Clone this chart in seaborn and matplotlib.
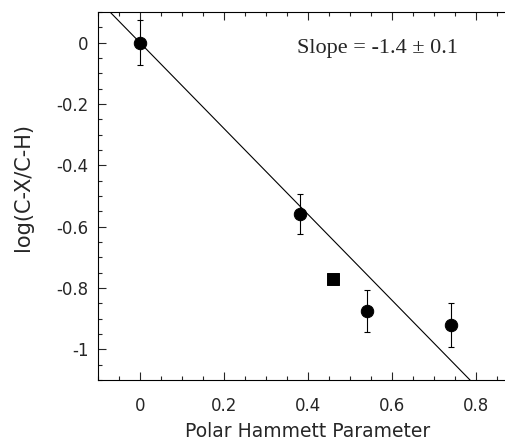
import matplotlib
matplotlib.use("Agg")
import matplotlib.pyplot as plt
import seaborn as sns
import numpy as np
import pandas as pd
from matplotlib.ticker import MultipleLocator

# data
sigma = [0.0, 0.38, 0.54, 0.74]
log_ratio = [0.0, -0.56, -0.875, -0.92]
err = [0.074, 0.065, 0.067, 0.072]
sq_sigma = [0.46]
sq_log_ratio = [-0.77]
slope = -1.4
intercept = 0.0
fit_x = [-0.1, 0.9]

sns.set_style("ticks")
plt.rcParams['font.family'] = ['DejaVu Sans']

fig = plt.figure(figsize=(5.06, 4.44), dpi=100)
ax = fig.add_axes([98 / 506, 1 - 380 / 444, 420 / 506, 368 / 444])

fit = pd.DataFrame({"x": fit_x, "y": [intercept + slope * v for v in fit_x]})
sns.lineplot(data=fit, x="x", y="y", color="black", lw=0.8, ax=ax)

ax.errorbar(sigma, log_ratio, yerr=err, fmt="none", ecolor="black",
            elinewidth=0.8, capsize=2, capthick=0.8)
sns.scatterplot(x=sigma, y=log_ratio, marker="o", s=80, color="black",
                edgecolor="black", ax=ax, zorder=3)
sns.scatterplot(x=sq_sigma, y=sq_log_ratio, marker="s", s=75, color="black",
                edgecolor="black", ax=ax, zorder=3)

ax.set_xlim(-0.1, 0.9)
ax.set_ylim(-1.1, 0.1)
ax.xaxis.set_minor_locator(MultipleLocator(0.05))
ax.yaxis.set_minor_locator(MultipleLocator(0.05))
ax.set_xticks([0, 0.2, 0.4, 0.6, 0.8])
ax.set_xticklabels(["0", "0.2", "0.4", "0.6", "0.8"])
ax.set_yticks([0, -0.2, -0.4, -0.6, -0.8, -1])
ax.set_yticklabels(["0", "-0.2", "-0.4", "-0.6", "-0.8", "-1"])
ax.tick_params(which="both", direction="in", top=True, right=False,
               labelsize=12, width=0.8)
ax.tick_params(axis="x", which="major", pad=12)
ax.tick_params(axis="y", which="major", pad=7)
ax.tick_params(which="major", length=6)
ax.tick_params(which="minor", length=3)
for s in ax.spines.values():
    s.set_linewidth(0.8)
    s.set_color("black")

ax.set_xlabel("Polar Hammett Parameter", fontsize=13.5, labelpad=5)
ax.set_ylabel("log(C-X/C-H)", fontsize=15)
ax.yaxis.set_label_coords(-0.155, 0.525)

ax.text(0.375, -0.02, "Slope = -1.4 \u00b1 0.1", fontsize=16,
        family=["Liberation Serif", "DejaVu Serif"], va="center", ha="left")

fig.savefig("out.png", dpi=100)
